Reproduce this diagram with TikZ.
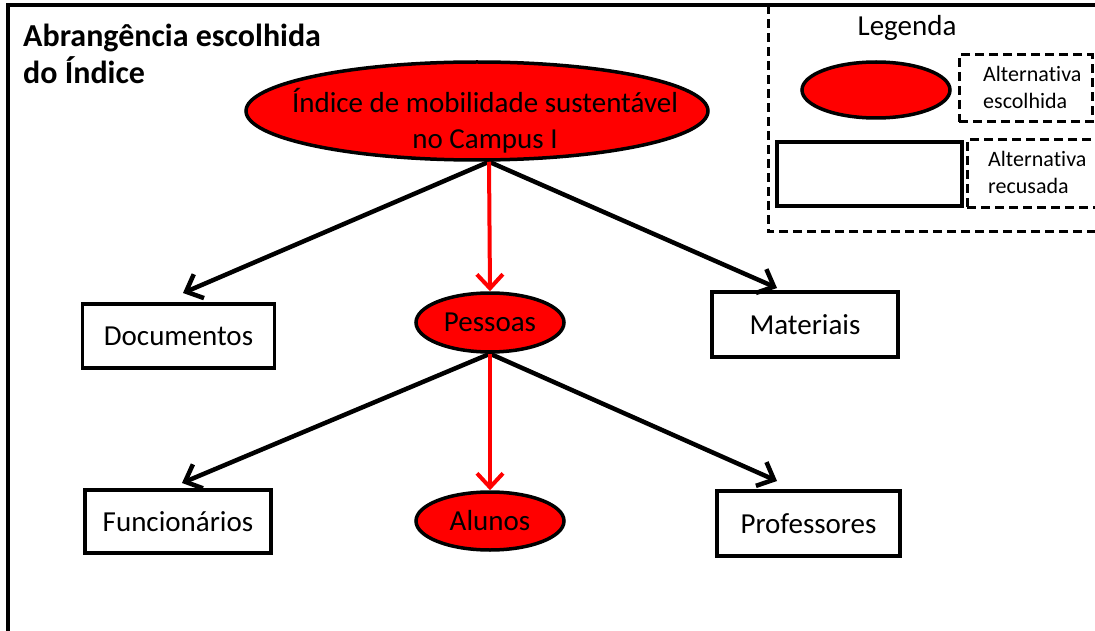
\documentclass[tikz,border=0pt]{standalone}
\usepackage{fontspec}
\setmainfont[Ligatures={NoCommon}]{Carlito}
\usetikzlibrary{shapes.geometric,arrows.meta,calc}
\newcommand{\altword}{Alterna\kern0pt tiva}
\begin{document}
\begin{tikzpicture}[x=1pt,y=-1pt,
  every node/.style={font=\fontsize{29}{36}\selectfont, text=black},
  redell/.style={ellipse, draw=black, fill=red, line width=3.5pt, inner sep=0pt},
  wbox/.style={rectangle, draw=black, fill=white, line width=3.5pt, inner sep=0pt},
  dbox/.style={draw=black, line width=3pt, dash pattern=on 9pt off 5pt, inner sep=0pt},
  smalltext/.style={font=\fontsize{22}{27}\selectfont, align=left, inner sep=0pt},
  blk/.style={line width=4.5pt, draw=black, -{Straight Barb[length=14pt,width=26pt]}},
  rd/.style={line width=4pt, draw=red, -{Straight Barb[length=14pt,width=26pt]}},
]
\useasboundingbox (0,0) rectangle (1095,631);
\clip (0,0) rectangle (1095,631);

% legend outer dashed frame
\draw[dbox] (1110,232) -- (768,232) -- (768,5);
% outer frame
\draw[line width=4pt] (7.5,640) -- (7.5,5) -- (1110,5);

% title
\node[anchor=north west, align=left, inner sep=0pt, font=\fontsize{32}{37}\selectfont\bfseries] (title) at (23,24) {Abrangência escolhida\\do Índice};

% legend
\node (legtitle) at (907,28) {Legenda};
\node[redell, minimum width=148, minimum height=56] (legell) at (876,90) {};
\node[dbox, rectangle, minimum width=133, minimum height=67] (lesc) at (1025.5,88.5) {};
\node[smalltext, anchor=west] (lesctext) at (983,87) {\altword\\escolhida};
\node[wbox, minimum width=185, minimum height=64] (lrec) at (869.5,174) {};
\node[dbox, rectangle, minimum width=140, minimum height=68] (lrecd) at (1037,174) {};
\node[smalltext, anchor=west] (lrectext) at (988,172) {\altword\\recusada};

% main nodes
\node[redell, minimum width=462, minimum height=98] (top) at (477,111) {};
\node[align=center, inner sep=0pt] (toptext) at ($(top.center)+(8,10)$) {Índice de mobilidade sustentável\\no Campus I};
\node[wbox, minimum width=192, minimum height=64] (doc) at (178.5,336) {Documentos};
\node[redell, minimum width=148, minimum height=59] (pes) at (490,322.5) {Pessoas};
\node[wbox, minimum width=186, minimum height=65] (mat) at (805,324.5) {Materiais};
\node[wbox, minimum width=186, minimum height=63] (fun) at (178,521.5) {Funcionários};
\node[redell, minimum width=148, minimum height=58] (alu) at (490,521) {Alunos};
\node[wbox, minimum width=183, minimum height=65] (pro) at (808.5,523.5) {Professores};

% connector end points
\coordinate (topfoot) at ($(top.south)+(12,0)$);
\coordinate (docin) at (183,293);
\coordinate (matin) at (777,288);
\coordinate (funin) at (182,483);
\coordinate (proin) at (777,481);

% connectors
\draw[blk] (topfoot) -- (docin);
\draw[blk] (topfoot) -- (matin);
\draw[rd] (topfoot) -- (pes.north);
\draw[blk] (pes.south) -- (funin);
\draw[blk] (pes.south) -- (proin);
\draw[rd] (pes.south) -- (alu.north);
\end{tikzpicture}
\end{document}
